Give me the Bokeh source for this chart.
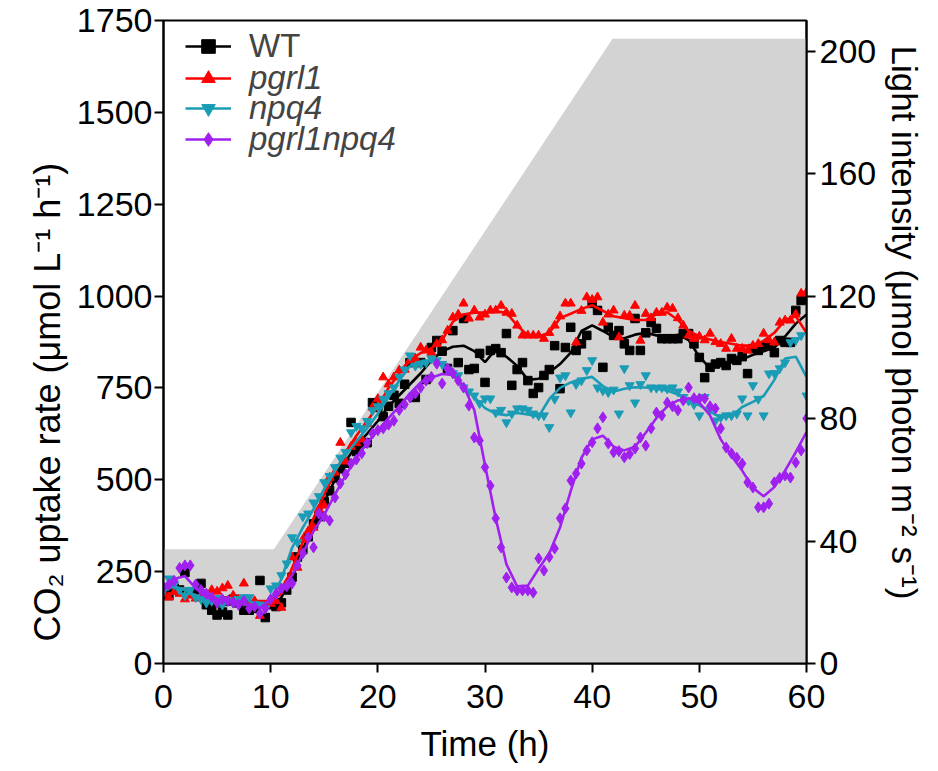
from bokeh.plotting import figure
from bokeh.models import Range1d, LinearAxis, Legend, LegendItem, FixedTicker, Title
from bokeh.embed import file_html
from bokeh.resources import INLINE

# ---------------- data ----------------
light_t = [0, 10.3, 41.9, 60]
light_v = [37.3, 37.3, 204, 204]

line_t = list(range(61))
pts_t = [i * 0.5 for i in range(121)]

wt_line = [205, 200, 200, 180, 165, 158, 160, 165, 160, 158, 153, 180, 235, 310, 375, 440,
           500, 550, 595, 625, 660, 700, 730, 760, 790, 825, 850, 862, 865, 850, 820, 855,
           835, 810, 772, 775, 792, 815, 846, 905, 920, 905, 888, 885, 895, 900, 893, 888,
           895, 880, 835, 803, 812, 820, 828, 840, 850, 860, 890, 925, 950]
pgrl1_line = [190, 190, 185, 185, 180, 180, 180, 175, 170, 170, 170, 190, 260, 330, 395, 460,
              520, 575, 620, 660, 700, 750, 790, 825, 845, 858, 880, 930, 950, 955, 955, 958,
              955, 920, 893, 890, 900, 940, 952, 965, 975, 960, 945, 940, 935, 935, 950, 956,
              935, 905, 890, 882, 875, 870, 865, 865, 878, 900, 935, 945, 900]
npq4_line = [198, 210, 200, 185, 172, 168, 170, 165, 160, 158, 170, 230, 315, 370, 420, 475,
             525, 568, 605, 640, 680, 725, 770, 810, 822, 825, 812, 785, 755, 725, 695, 680,
             676, 682, 678, 672, 720, 750, 765, 775, 780, 755, 740, 748, 752, 751, 748, 743,
             732, 715, 703, 685, 670, 673, 698, 712, 728, 772, 830, 835, 780]
dbl_line = [212, 230, 238, 205, 180, 175, 172, 168, 160, 152, 175, 200, 240, 300, 360, 405,
            460, 512, 560, 600, 635, 668, 700, 735, 765, 778, 788, 785, 755, 690, 540, 395,
            270, 210, 212, 258, 300, 370, 470, 560, 610, 620, 590, 580, 590, 628, 668, 700,
            716, 722, 710, 675, 610, 565, 525, 478, 455, 480, 525, 575, 630]

wt_pts = [195, 185, 205, 200, 248, 195, 190, 218, 160, 145, 132, 140, 132, 175, 165, 145,
          145, 150, 226, 125, 160, 155, 165, 200, 235, 290, 310, 345, 380, 400, 440, 470,
          505, 530, 545, 656, 577, 600, 601, 710, 697, 672, 700, 730,
          708, 760, 819, 724, 819, 773, 860, 879, 850, 803, 906, 819, 939, 800, 803, 844,
          765, 852, 857, 846, 898, 757, 800, 819, 770, 735, 751, 784, 800, 865, 748, 860,
          915, 852, 870, 893, 980, 961, 806, 915, 893, 906, 870, 852, 939, 852, 900, 928,
          912, 884, 884, 884, 884, 898, 898, 870, 833, 778, 806, 815, 819, 811, 830, 825,
          835, 789, 857, 852, 865, 865, 846, 879, 874, 874, 961, 988, 1000]
pgrl1_pts = [190, 180, 195, 190, 175, 185, 177, 180, 186, 200, 196, 205, 212, 185, 175, 218,
             165, 170, 130, 158, 163, 170, 152, 220, 289, 261, 337, 360, 370, 420, 430, 506,
             520, 601, 550, 590, 600, 610, 653, 697, 720, 779, 760, 779, 798, 800, 825, 830,
             860, 852, 846, 870, 880, 906, 942, 950, 980, 939, 961, 942, 950, 961, 961, 974,
             955, 952, 920, 893, 893, 893, 893, 884, 900, 920, 945, 980, 980, 874, 960, 997,
             990, 997, 928, 950, 961, 888, 947, 947, 974, 879, 952, 940, 955, 955, 969, 966,
             940, 920, 893, 884, 890, 880, 898, 875, 870, 857, 884, 857, 857, 852, 865, 870,
             898, 880, 874, 928, 934, 934, 950, 1007, 1010]
npq4_pts = [198, 231, 215, 200, 185, 200, 180, 175, 165, 170, 178, 160, 172, 165, 175, 180,
            180, 162, 160, 150, 204, 212, 240, 272, 343, 330, 400, 408, 438, 455, 493, 510,
            534, 560, 575, 629, 646, 640, 660, 689, 700, 720, 735, 751, 780, 800, 838, 810,
            815, 819, 830, 825, 815, 800, 790, 784, 751, 740, 729, 708, 721, 721, 683, 690,
            656, 680, 694, 694, 690, 680, 675, 675, 643, 720, 778, 784, 683, 760, 770, 798,
            825, 751, 743, 738, 745, 680, 803, 757, 710, 760, 784, 751, 750, 751, 748, 751,
            740, 725, 715, 705, 675, 725, 690, 661, 670, 675, 675, 680, 721, 675, 757, 720,
            675, 789, 790, 803, 819, 874, 880, 893, 729]
dbl_pts = [207, 215, 225, 260, 267, 267, 215, 200, 190, 180, 166, 175, 170, 166, 160, 170,
           150, 155, 136, 150, 175, 190, 204, 210, 218, 267, 300, 343, 316, 408, 400, 389,
           452, 490, 515, 544, 555, 572, 600, 626, 635, 640, 650, 661, 690, 705, 724, 735,
           751, 770, 780, 816, 762, 803, 790, 770, 751, 702, 615, 607, 534, 484, 395, 316,
           234, 207, 199, 199, 199, 193, 286, 253, 290, 313, 395, 422, 498, 517, 544, 580,
           602, 640, 670, 599, 575, 578, 561, 570, 585, 615, 593, 640, 683, 675, 710, 700,
           689, 716, 751, 722, 721, 721, 700, 694, 640, 588, 572, 560, 544, 493, 479, 425,
           425, 435, 493, 505, 512, 506, 547, 580, 667]

series = [
    ("WT", wt_line, wt_pts, "black", "square", "normal"),
    ("pgrl1", pgrl1_line, pgrl1_pts, "#ff0000", "triangle", "italic"),
    ("npq4", npq4_line, npq4_pts, "#1a9cb6", "inverted_triangle", "italic"),
    ("pgrl1npq4", dbl_line, dbl_pts, "#a020f0", "diamond", "italic"),
]

FONT = "Liberation Sans"

p = figure(width=938, height=771, output_backend="svg", toolbar_location=None,
           x_range=Range1d(0, 60), y_range=Range1d(0, 1750),
           min_border_left=163, min_border_right=132, min_border_top=20, min_border_bottom=108)
p.extra_y_ranges = {"light": Range1d(0, 210)}
p.grid.visible = False
p.outline_line_color = "black"
p.outline_line_width = 2
p.background_fill_color = "white"

p.varea(x=light_t, y1=[0] * len(light_t), y2=light_v, y_range_name="light",
        fill_color="#d3d3d3")

legend_items = []
sizes = {"square": 8.5, "triangle": 9, "inverted_triangle": 9, "diamond": 11}
for name, ln, pts, col, mk, style in series:
    s = p.scatter(pts_t, pts, marker=mk, size=sizes[mk], fill_color=col, line_color=col)
    l = p.line(line_t, ln, line_color=col, line_width=2.6)
    legend_items.append((LegendItem(label=name, renderers=[l, s]), style))

def style_axis(ax):
    ax.axis_line_width = 2
    ax.major_tick_line_width = 2
    ax.major_tick_out = 9
    ax.major_tick_in = 0
    ax.minor_tick_out = 0
    ax.minor_tick_in = 0
    ax.major_label_text_font = FONT
    ax.major_label_text_font_size = "34px"
    ax.major_label_text_color = "black"
    ax.axis_label_text_font = FONT
    ax.axis_label_text_font_size = "35px"
    ax.axis_label_text_font_style = "normal"
    ax.axis_label_text_color = "black"

p.xaxis.ticker = FixedTicker(ticks=[0, 10, 20, 30, 40, 50, 60])
p.xaxis.axis_label = "Time (h)"
p.yaxis.ticker = FixedTicker(ticks=[0, 250, 500, 750, 1000, 1250, 1500, 1750])
style_axis(p.xaxis[0])
style_axis(p.yaxis[0])
p.xaxis.major_label_standoff = 12
p.xaxis.axis_label_standoff = 13
p.yaxis.major_label_standoff = 2

ylab = Title(text="CO\u2082 uptake rate (\u03bcmol L\u207b\u00b9 h\u207b\u00b9)", align="left",
             offset=22, text_font=FONT, text_font_size="36px", text_font_style="normal",
             text_color="black", standoff=12)
p.add_layout(ylab, "left")

ax2 = LinearAxis(y_range_name="light", ticker=FixedTicker(ticks=[0, 40, 80, 120, 160, 200]))
style_axis(ax2)
ax2.major_label_standoff = 4
p.add_layout(ax2, "right")

rlab = Title(text="Light intensity (\u03bcmol photon m\u207b\u00b2 s\u207b\u00b9)", align="left",
             offset=25, text_font=FONT, text_font_size="35px", text_font_style="normal",
             text_color="black", standoff=10)
p.add_layout(rlab, "right")

row_centers = [48, 80, 110, 141]
for (it, style), c in zip(legend_items, row_centers):
    lg = Legend(items=[it], location=(22, 663 - c - 17), border_line_color=None,
                background_fill_alpha=0, glyph_width=46, glyph_height=34, label_height=34,
                spacing=0, padding=0, margin=0, label_standoff=18, label_text_font=FONT,
                label_text_font_size="33px", label_text_font_style=style)
    p.add_layout(lg, "center")

open("out.html", "w").write(file_html(p, INLINE))
